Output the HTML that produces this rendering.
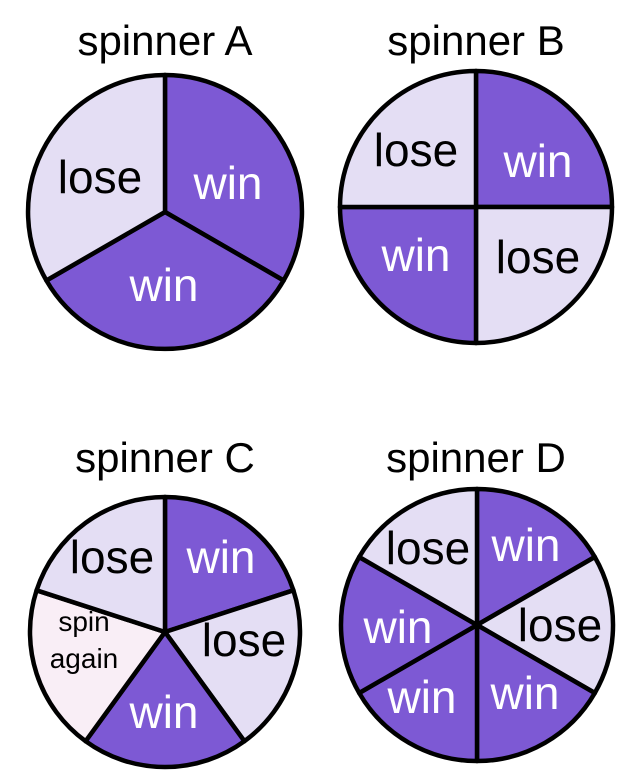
<!DOCTYPE html>
<html><head><style>html,body{margin:0;padding:0;background:#fff}svg{display:block}</style></head>
<body>
<svg width="640" height="770" viewBox="0 0 640 770" xmlns="http://www.w3.org/2000/svg" font-family="Liberation Sans, sans-serif">
<g font-size="42" text-anchor="middle" fill="#000">
<text x="165" y="55">spinner A</text>
<text x="476" y="55">spinner B</text>
<text x="165" y="472">spinner C</text>
<text x="476" y="472">spinner D</text>
</g>
<g stroke="#000" stroke-width="4.5" stroke-linejoin="round">
<path d="M165,212 L165,75 A137,137 0 0 1 283.6,280.5 Z" fill="#7d59d4"/>
<path d="M165,212 L283.6,280.5 A137,137 0 0 1 46.4,280.5 Z" fill="#7d59d4"/>
<path d="M165,212 L46.4,280.5 A137,137 0 0 1 165,75 Z" fill="#e4def4"/>
<path d="M476,207 L476,71 A136,136 0 0 1 612,207 Z" fill="#7d59d4"/>
<path d="M476,207 L612,207 A136,136 0 0 1 476,343 Z" fill="#e4def4"/>
<path d="M476,207 L476,343 A136,136 0 0 1 340,207 Z" fill="#7d59d4"/>
<path d="M476,207 L340,207 A136,136 0 0 1 476,71 Z" fill="#e4def4"/>
<path d="M165,632 L165,497 A135,135 0 0 1 293.4,590.3 Z" fill="#7d59d4"/>
<path d="M165,632 L293.4,590.3 A135,135 0 0 1 244.4,741.2 Z" fill="#e4def4"/>
<path d="M165,632 L244.4,741.2 A135,135 0 0 1 85.6,741.2 Z" fill="#7d59d4"/>
<path d="M165,632 L85.6,741.2 A135,135 0 0 1 36.6,590.3 Z" fill="#f9eef6"/>
<path d="M165,632 L36.6,590.3 A135,135 0 0 1 165,497 Z" fill="#e4def4"/>
<path d="M477,625 L477,489 A136,136 0 0 1 594.8,557 Z" fill="#7d59d4"/>
<path d="M477,625 L594.8,557 A136,136 0 0 1 594.8,693 Z" fill="#e4def4"/>
<path d="M477,625 L594.8,693 A136,136 0 0 1 477,761 Z" fill="#7d59d4"/>
<path d="M477,625 L477,761 A136,136 0 0 1 359.2,693 Z" fill="#7d59d4"/>
<path d="M477,625 L359.2,693 A136,136 0 0 1 359.2,557 Z" fill="#7d59d4"/>
<path d="M477,625 L359.2,557 A136,136 0 0 1 477,489 Z" fill="#e4def4"/>
</g>
<g font-size="46" text-anchor="middle">
<text x="100" y="193" fill="#000">lose</text>
<text x="228" y="199" fill="#fff">win</text>
<text x="164" y="301" fill="#fff">win</text>
<text x="416" y="166" fill="#000">lose</text>
<text x="538" y="177" fill="#fff">win</text>
<text x="416" y="271" fill="#fff">win</text>
<text x="538" y="273" fill="#000">lose</text>
<text x="112" y="573" fill="#000">lose</text>
<text x="221" y="573" fill="#fff">win</text>
<text x="244" y="656" fill="#000">lose</text>
<text x="164" y="728" fill="#fff">win</text>
<text x="428" y="564" fill="#000">lose</text>
<text x="526" y="561" fill="#fff">win</text>
<text x="560" y="641" fill="#000">lose</text>
<text x="398" y="643" fill="#fff">win</text>
<text x="422" y="713" fill="#fff">win</text>
<text x="525" y="709" fill="#fff">win</text>
</g>
<g font-size="28" text-anchor="middle" fill="#000">
<text x="84" y="631">spin</text>
<text x="84" y="668">again</text>
</g>
</svg>
</body></html>
